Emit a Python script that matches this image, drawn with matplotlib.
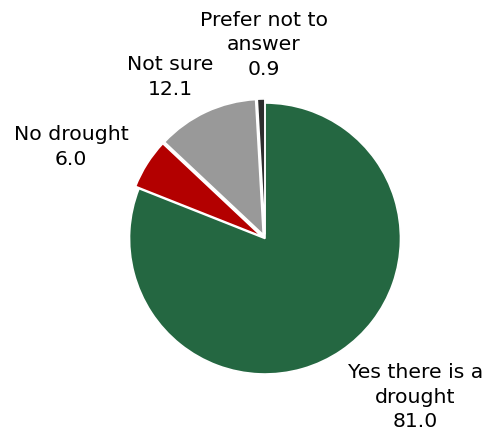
import numpy as np
from matplotlib import pyplot as plt

categories = ["Yes there is a\ndrought", "No drought", "Not sure", "Prefer not to\nanswer"]
values = [81.0, 6.0, 12.1, 0.9]
colors = ["#246741", "#b30000", "#999999", "#2d2d2d"]
explode = [0, 0.03, 0.03, 0.03]
# label centres, in units of the pie radius
label_pos = [(1.11, -1.17), (-1.432, 0.675), (-0.701, 1.192), (-0.007, 1.43)]

fig = plt.figure(figsize=(4.9, 4.38), dpi=100)
ax = fig.add_axes([0, 0, 1, 1])

r_px = 135.5
cx, cy = 265, 438 - 238.5
ax.pie(values, colors=colors, startangle=90, counterclock=False,
       explode=explode, radius=1,
       wedgeprops=dict(edgecolor="white", linewidth=1.2))

for cat, val, (x, y) in zip(categories, values, label_pos):
    ax.text(x, y, "%s\n%.1f" % (cat, val), ha="center", va="center",
            fontsize=14.7, linespacing=1.36, color="black",
            family="DejaVu Sans")

ax.set_xlim(-cx / r_px, (490 - cx) / r_px)
ax.set_ylim(-cy / r_px, (438 - cy) / r_px)
ax.set_aspect("auto")
ax.axis("off")

fig.savefig("out.png", dpi=100)
